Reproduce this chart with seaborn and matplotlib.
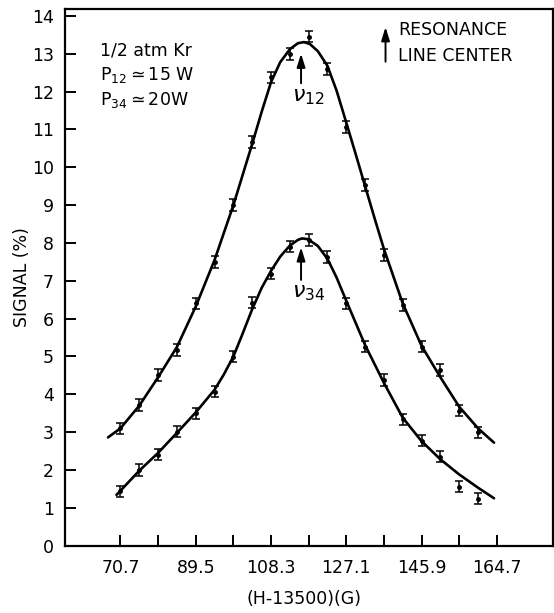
import numpy as np
import pandas as pd
import matplotlib
matplotlib.use("Agg")
import matplotlib.pyplot as plt
import seaborn as sns

sns.set_style("ticks")
plt.rcParams['font.family'] = ['DejaVu Sans']
plt.rcParams['mathtext.fontset'] = 'dejavusans'
plt.rcParams['text.color'] = 'black'
plt.rcParams['axes.labelcolor'] = 'black'

# -------------------------------
# Data
# -------------------------------
field = [70.7, 75.4, 80.1, 84.8, 89.5, 94.2, 98.9, 103.6, 108.3, 113.0,
         117.7, 122.4, 127.1, 131.8, 136.5, 141.2, 145.9, 150.6, 155.3, 160.0]
signal_12 = [3.10, 3.72, 4.51, 5.17, 6.40, 7.50, 9.00, 10.67, 12.38, 13.00,
             13.45, 12.60, 11.07, 9.53, 7.68, 6.36, 5.26, 4.64, 3.57, 2.99]
signal_34 = [1.43, 2.00, 2.40, 3.01, 3.50, 4.07, 4.99, 6.42, 7.19, 7.90,
             8.08, 7.63, 6.40, 5.26, 4.38, 3.34, 2.77, 2.35, 1.56, 1.24]
err_12 = [0.15] * len(field)
err_34 = [0.15] * len(field)

# fitted line shapes
fit_x_12 = [67.6, 70.7, 75.4, 80.1, 84.8, 89.5, 94.2, 98.9, 103.6, 106.0, 108.3,
            110.6, 113.0, 115.0, 116.5, 118.0, 120.0, 122.4, 124.7, 127.1,
            129.5, 131.8, 134.2, 136.5, 141.2, 145.9, 150.6, 155.3, 160.0, 164.0]
fit_y_12 = [2.86, 3.10, 3.70, 4.45, 5.25, 6.32, 7.55, 9.00, 10.62, 11.48, 12.25,
            12.78, 13.12, 13.28, 13.31, 13.26, 13.07, 12.68, 12.02, 11.18,
            10.33, 9.50, 8.64, 7.84, 6.40, 5.28, 4.45, 3.67, 3.10, 2.72]
fit_x_34 = [69.7, 70.7, 75.4, 80.1, 84.8, 89.5, 94.2, 96.5, 98.9, 101.2, 103.6,
            106.0, 108.3, 110.6, 113.0, 115.0, 116.0, 117.5, 120.0, 122.4,
            124.7, 127.1, 131.8, 136.5, 141.2, 145.9, 150.6, 155.3, 160.0, 164.0]
fit_y_34 = [1.34, 1.45, 1.98, 2.45, 2.98, 3.52, 4.12, 4.52, 5.00, 5.60, 6.25,
            6.82, 7.26, 7.64, 7.93, 8.08, 8.12, 8.10, 7.92, 7.58,
            7.08, 6.47, 5.30, 4.30, 3.38, 2.76, 2.28, 1.88, 1.53, 1.25]

xticks_major = [70.7, 89.5, 108.3, 127.1, 145.9, 164.7]
xticks_minor = [80.1, 98.9, 117.7, 136.5, 155.3]
yticks = list(range(0, 15))

# -------------------------------
# Plot
# -------------------------------
fig = plt.figure(figsize=(5.54, 6.13), dpi=100)
ax = fig.add_axes([0.117, 0.110, 0.881, 0.875])

fit_12 = pd.DataFrame({"x": fit_x_12, "y": fit_y_12})
fit_34 = pd.DataFrame({"x": fit_x_34, "y": fit_y_34})
sns.lineplot(data=fit_12, x="x", y="y", color="black", lw=1.9, sort=False, ax=ax)
sns.lineplot(data=fit_34, x="x", y="y", color="black", lw=1.9, sort=False, ax=ax)

ax.errorbar(field, signal_12, yerr=err_12, fmt="o", ms=2.5, color="black",
            ecolor="black", elinewidth=1.1, capsize=3, capthick=1.1)
ax.errorbar(field, signal_34, yerr=err_34, fmt="o", ms=2.5, color="black",
            ecolor="black", elinewidth=1.1, capsize=3, capthick=1.1)

# resonance line center arrows
arrow_kw = dict(arrowstyle="-|>,head_length=0.8,head_width=0.25", color="black", lw=1.4)
ax.annotate("", xy=(115.8, 13.08), xytext=(115.8, 12.15), arrowprops=arrow_kw)
ax.annotate("", xy=(115.8, 7.96), xytext=(115.8, 6.95), arrowprops=arrow_kw)
ax.text(113.5, 12.12, r"$\nu_{12}$", fontsize=16, ha="left", va="top")
ax.text(113.5, 6.95, r"$\nu_{34}$", fontsize=16, ha="left", va="top")

# legend-like annotation
ax.annotate("", xy=(136.9, 13.78), xytext=(136.9, 12.72), arrowprops=arrow_kw)
ax.text(140.0, 13.62, "RESONANCE", fontsize=12.5, ha="left", va="center")
ax.text(140.0, 12.94, "LINE CENTER", fontsize=12.5, ha="left", va="center")

# conditions
ax.text(65.6, 13.09, "1/2 atm Kr", fontsize=12.5, ha="left", va="center")
ax.text(65.6, 12.43, r"P$_{12}$$\simeq$15 W", fontsize=12.5, ha="left", va="center")
ax.text(65.6, 11.77, r"P$_{34}$$\simeq$20W", fontsize=12.5, ha="left", va="center")

ax.set_xlim(56.8, 178.7)
ax.set_ylim(0, 14.18)
ax.set_xticks(xticks_major)
ax.set_xticklabels([str(v) for v in xticks_major])
ax.set_xticks(xticks_minor, minor=True)
ax.set_yticks(yticks)
ax.set_yticklabels([str(v) for v in yticks])
ax.tick_params(axis="both", which="both", direction="in", length=8, width=1.4,
               labelsize=12.5, colors="black")
ax.tick_params(axis="x", which="major", pad=10)
ax.tick_params(axis="y", which="major", pad=8)
for side in ["left", "right", "top", "bottom"]:
    ax.spines[side].set_visible(True)
    ax.spines[side].set_linewidth(1.6)
    ax.spines[side].set_color("black")
ax.grid(False)

ax.set_xlabel("(H-13500)(G)", fontsize=12.5)
ax.set_ylabel("SIGNAL (%)", fontsize=12.5)
ax.xaxis.set_label_coords(0.49, -0.082)
ax.yaxis.set_label_coords(-0.07, 0.5)

fig.savefig("out.png", dpi=100)
